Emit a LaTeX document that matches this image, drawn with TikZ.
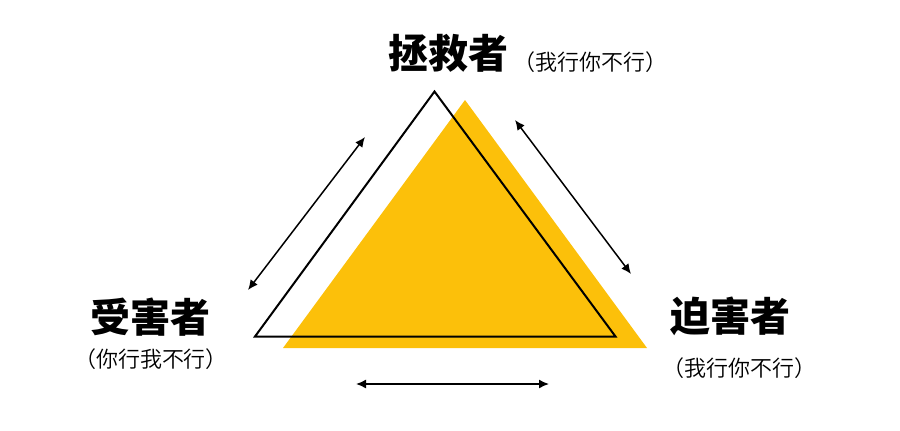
\documentclass[tikz,border=0pt]{standalone}
\usepackage{fontspec}
\newfontfamily\cjkblack{Noto Sans CJK SC Black}
\newfontfamily\cjkreg{Noto Sans CJK SC DemiLight}
\usetikzlibrary{arrows.meta}
\definecolor{tyellow}{RGB}{252,192,10}
\tikzset{
  title/.style={font=\cjkblack\fontsize{40}{40}\selectfont, inner sep=0pt},
  sub/.style={font=\cjkreg\fontsize{22}{22}\selectfont, inner sep=0pt},
  dbl/.style={line width=1.5pt, {Latex[length=10pt,width=9pt]}-{Latex[length=10pt,width=9pt]}},
}
\begin{document}
\begin{tikzpicture}[x=1pt,y=-1pt]
\useasboundingbox (0,0) rectangle (900,431);
% yellow triangle
\coordinate (ya) at (465,100);
\coordinate (yl) at (283,348);
\coordinate (yr) at (647,348);
\fill[tyellow] (ya) -- (yl) -- (yr) -- cycle;
% outline triangle
\coordinate (oa) at (434.5,91.5);
\coordinate (ol) at (255,336.5);
\coordinate (or) at (615.5,336.5);
\draw[line width=2pt, line join=miter] (oa) -- (ol) -- (or) -- cycle;
% arrows
\coordinate (l1) at (248,290);
\coordinate (l2) at (365,137);
\coordinate (r1) at (515,120);
\coordinate (r2) at (631,274);
\coordinate (b1) at (356,384);
\coordinate (b2) at (549,384);
\draw[dbl] (l1) -- (l2);
\draw[dbl] (r1) -- (r2);
\draw[dbl] (b1) -- (b2);
% labels
\node[title] (rescuer) at (448,53) {拯救者};
\node[sub] (rescuersub) at (590,62) {（我行你不行）};
\node[title] (victim) at (150,317) {受害者};
\node[sub] (victimsub) at (151,359) {（你行我不行）};
\node[title] (persecutor) at (730,316) {迫害者};
\node[sub] (persecutorsub) at (739,368) {（我行你不行）};
\end{tikzpicture}
\end{document}
